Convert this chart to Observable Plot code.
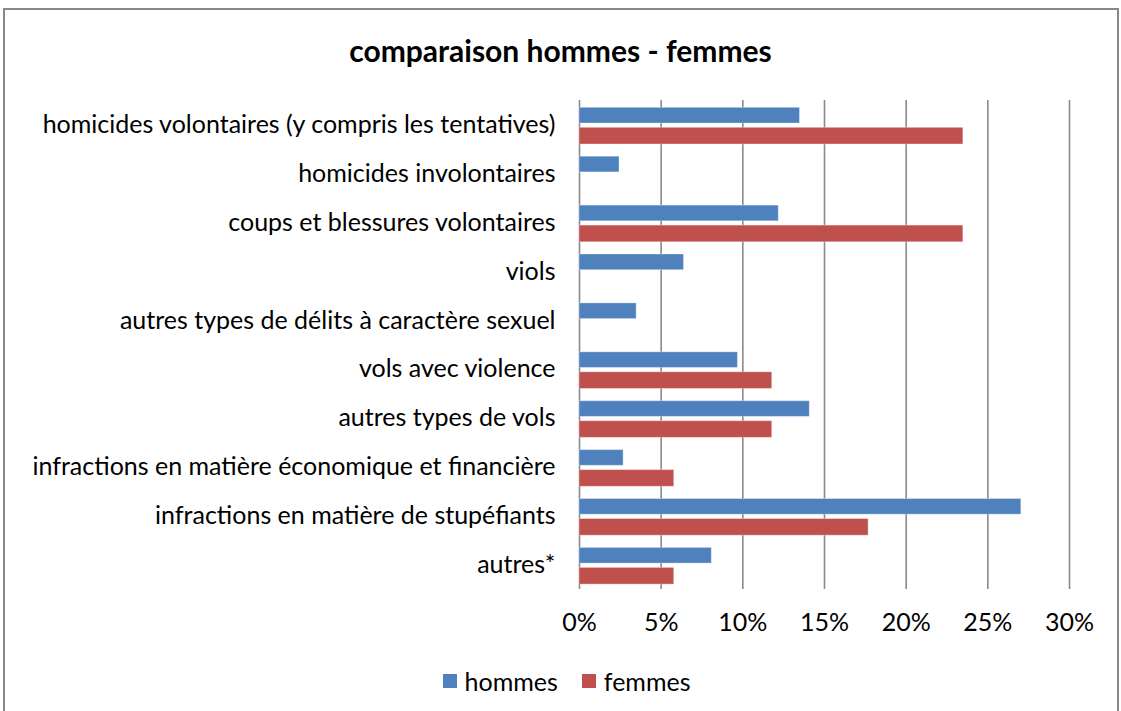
<!DOCTYPE html>
<html>
<head>
<meta charset="utf-8">
<script src="https://cdn.jsdelivr.net/npm/d3@7"></script>
<script src="https://cdn.jsdelivr.net/npm/@observablehq/plot@0.6"></script>
<style>
  html, body { margin: 0; padding: 0; background: #fff; }
  body { width: 1121px; height: 711px; position: relative; overflow: hidden; font-family: Lato, "Open Sans", sans-serif; }
  #frame { position: absolute; left: 3px; top: 8px; width: 1116px; height: 720px; border: 2px solid #888; box-sizing: border-box; }
  #title { position: absolute; left: 0; top: 30px; width: 1121px; text-align: center; font-weight: bold; font-size: 30px; line-height: 40px; color: #000; }
  #chart { position: absolute; left: 0; top: 70px; }
  #legend { position: absolute; left: 6px; top: 665px; width: 1121px; display: flex; justify-content: center; align-items: center; font-size: 25px; line-height: 32px; color: #000; }
  .item { display: flex; align-items: center; margin: 0 12px; }
  .sw { width: 14px; height: 14px; margin-right: 8px; }
</style>
</head>
<body>
<div id="frame"></div>
<div id="title">comparaison hommes - femmes</div>
<div id="chart"></div>
<div id="legend"></div>
<script>
const categories = [
  "homicides volontaires (y compris les tentatives)",
  "homicides involontaires",
  "coups et blessures volontaires",
  "viols",
  "autres types de délits à caractère sexuel",
  "vols avec violence",
  "autres types de vols",
  "infractions en matière économique et financière",
  "infractions en matière de stupéfiants",
  "autres*"
];
const hommes = [13.5, 2.45, 12.2, 6.4, 3.5, 9.7, 14.1, 2.7, 27.05, 8.1];
const femmes = [23.5, 0, 23.5, 0, 0, 11.8, 11.8, 5.8, 17.7, 5.8];
const series = ["hommes", "femmes"];
const colors = ["#4F81BD", "#C0504D"];
const xTicks = [0, 5, 10, 15, 20, 25, 30];

const dataH = categories.map((c, i) => ({cat: c, value: hommes[i]})).filter(d => d.value > 0);
const dataF = categories.map((c, i) => ({cat: c, value: femmes[i]})).filter(d => d.value > 0);

const chart = Plot.plot({
  width: 1121,
  height: 579,
  marginTop: 30,
  marginBottom: 60,
  marginLeft: 579,
  marginRight: 52,
  style: {fontFamily: "Lato, 'Open Sans', sans-serif", fontSize: "25px", color: "#000", background: "transparent"},
  x: {domain: [0, 30], label: null},
  y: {domain: categories, padding: 0, round: false, label: null},
  marks: [
    Plot.gridX(xTicks, {stroke: "#8a8a8a", strokeOpacity: 1, strokeWidth: 1.6}),
    Plot.barX(dataH, {x: "value", y: "cat", fill: colors[0], stroke: "#ffffff", strokeOpacity: 0.35, insetTop: 7.3, insetBottom: 25.9}),
    Plot.barX(dataF, {x: "value", y: "cat", fill: colors[1], stroke: "#ffffff", strokeOpacity: 0.35, insetTop: 27.3, insetBottom: 4.9}),
    Plot.axisX({ticks: xTicks, tickSize: 0, tickPadding: 24, tickFormat: d => d + "%", fontSize: 25, label: null}),
    Plot.axisY({tickSize: 0, tickPadding: 24, fontSize: 25, label: null})
  ]
});
document.getElementById("chart").appendChild(chart);

const legend = document.getElementById("legend");
series.forEach((s, i) => {
  const item = document.createElement("div");
  item.className = "item";
  const sw = document.createElement("div");
  sw.className = "sw";
  sw.style.background = colors[i];
  const t = document.createElement("span");
  t.textContent = s;
  item.appendChild(sw);
  item.appendChild(t);
  legend.appendChild(item);
});
</script>
</body>
</html>
